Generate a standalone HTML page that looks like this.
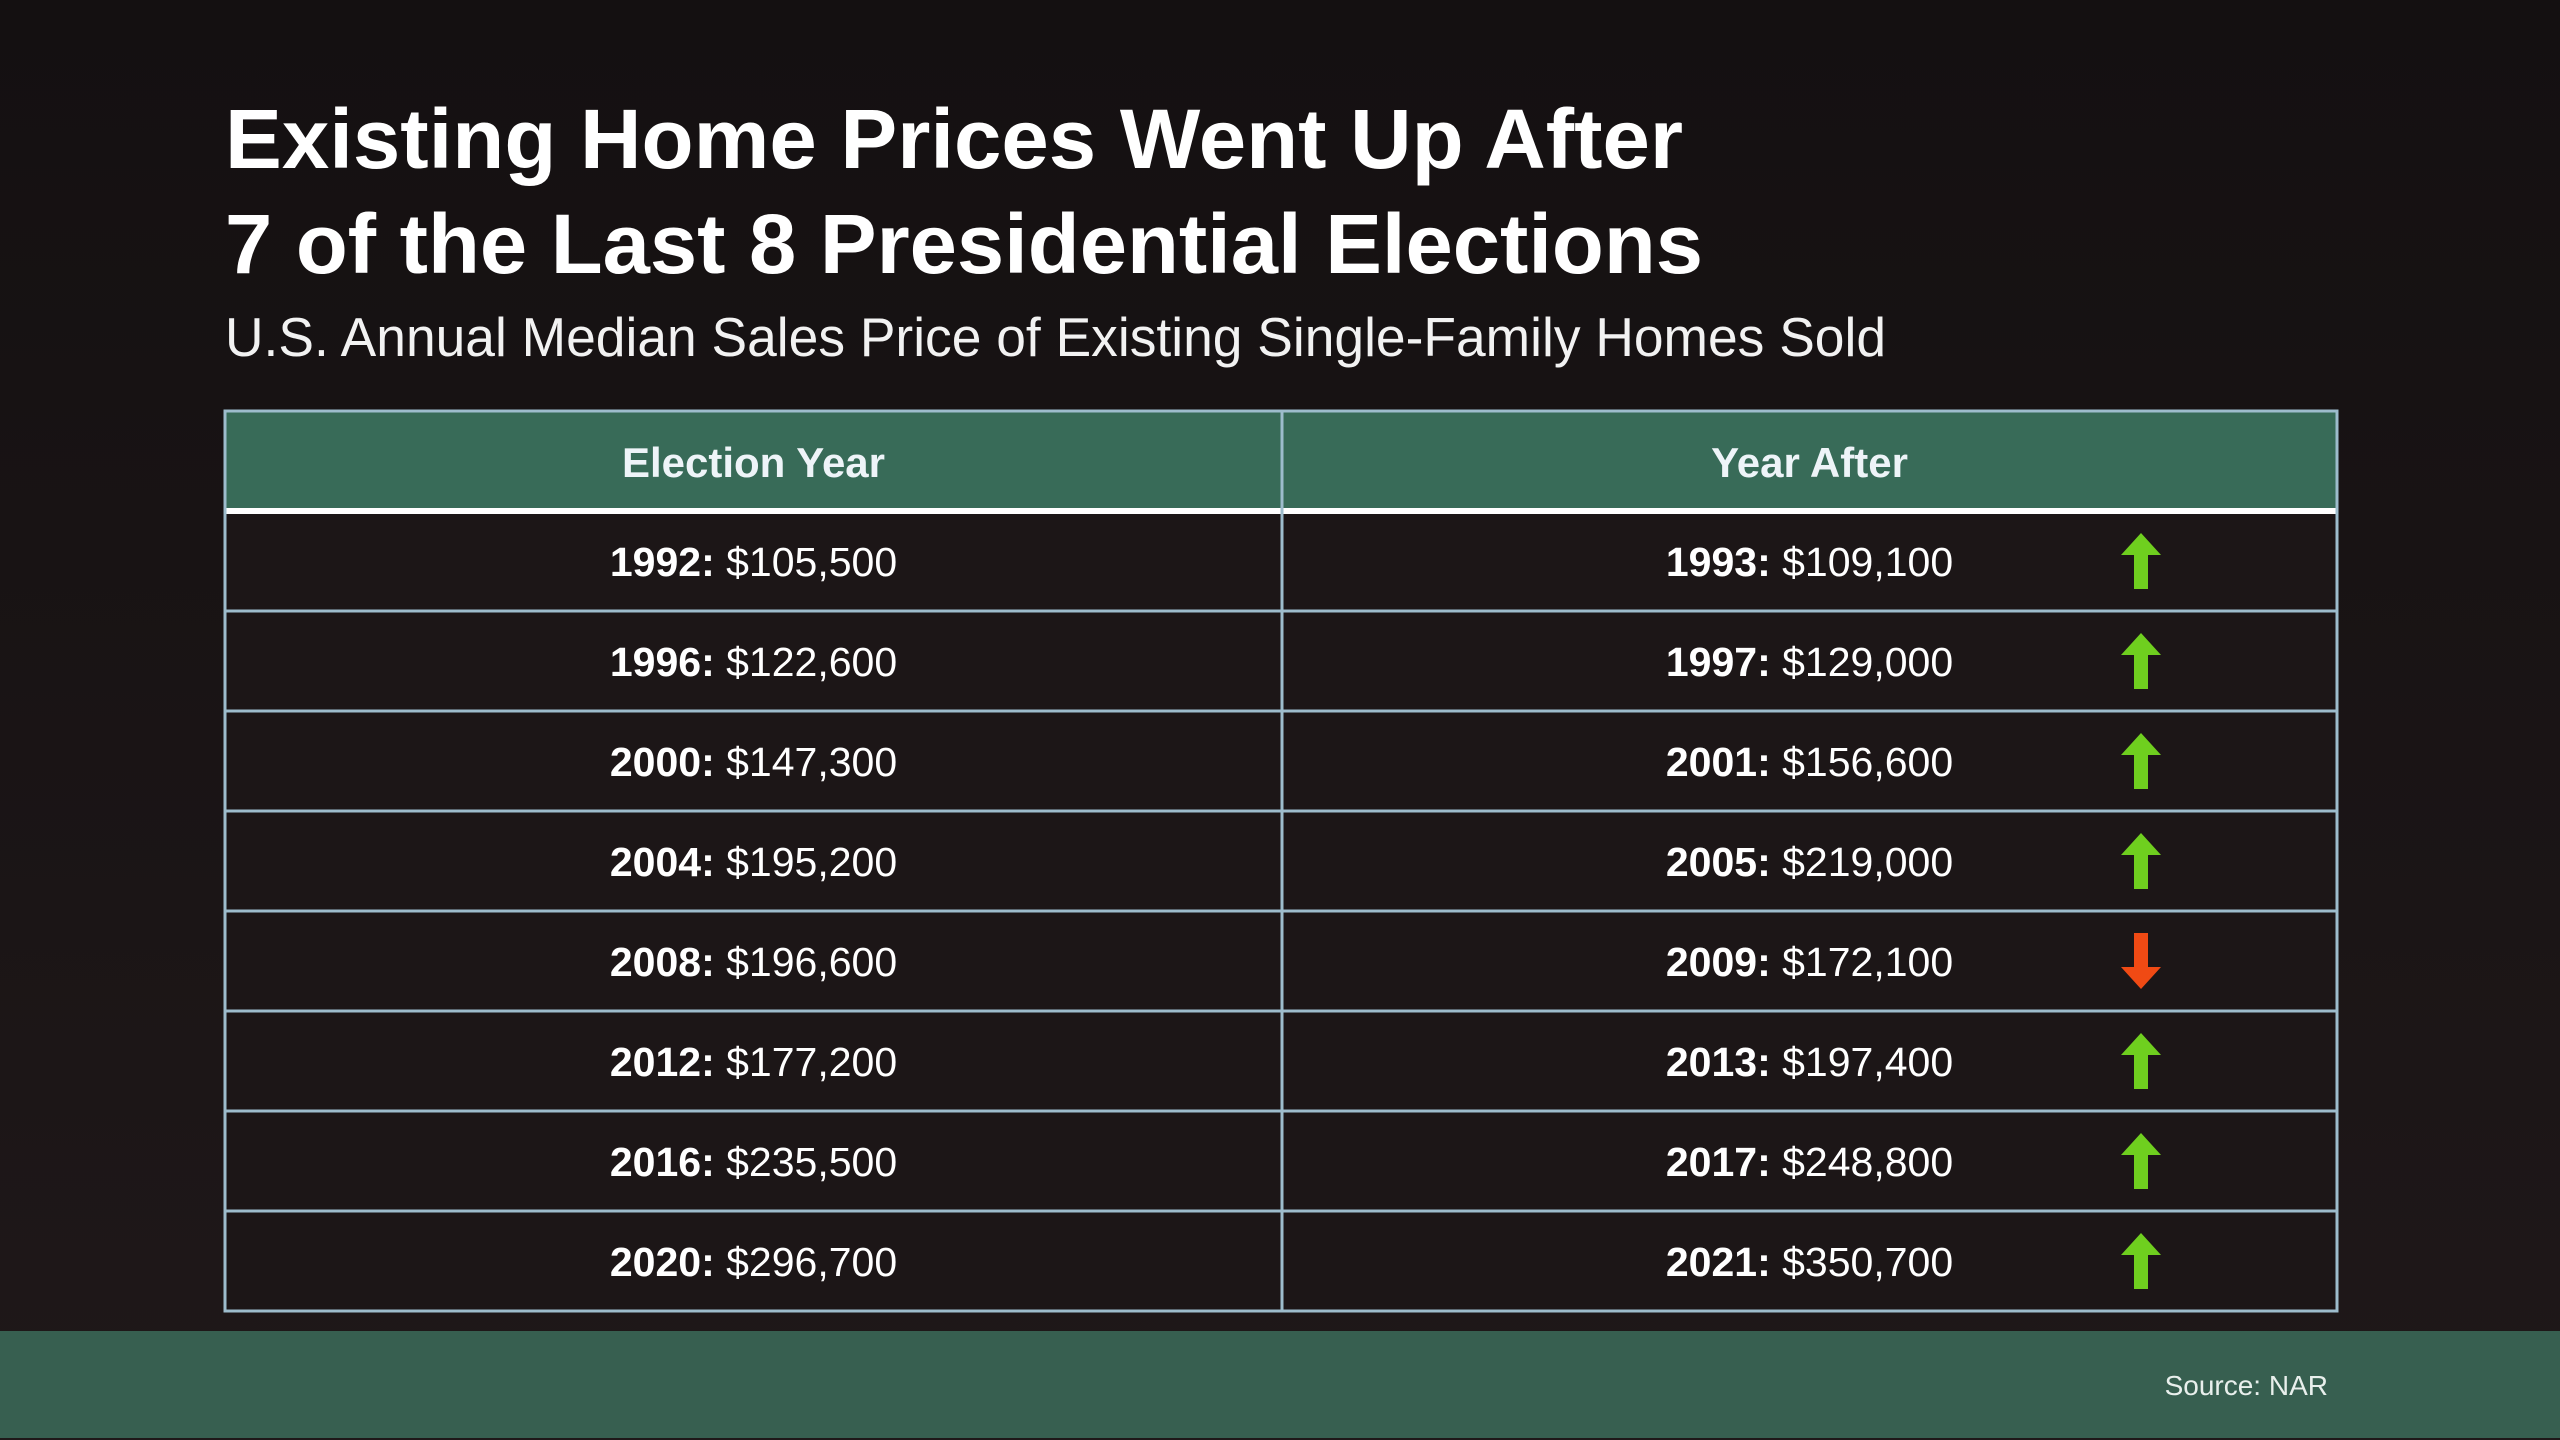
<!DOCTYPE html>
<html><head><meta charset="utf-8"><style>
html,body{margin:0;padding:0;background:#1a1415;}
svg{display:block}
</style></head><body>
<svg id="chart" width="2560" height="1440" viewBox="0 0 2560 1440" xmlns="http://www.w3.org/2000/svg" font-family="Liberation Sans, Arial, sans-serif">
<defs>
<linearGradient id="bg" x1="0" y1="0" x2="0" y2="1">
<stop offset="0" stop-color="#141011"/><stop offset="1" stop-color="#1f1819"/>
</linearGradient>
</defs>
<rect x="0" y="0" width="2560" height="1440" fill="url(#bg)"/>
<text x="225" y="168" font-size="84" font-weight="bold" fill="#ffffff" textLength="1458" lengthAdjust="spacingAndGlyphs">Existing Home Prices Went Up After</text>
<text x="225" y="273" font-size="84" font-weight="bold" fill="#ffffff" textLength="1478" lengthAdjust="spacingAndGlyphs">7 of the Last 8 Presidential Elections</text>
<text x="225" y="356" font-size="55" fill="#f2f2f2" textLength="1661" lengthAdjust="spacingAndGlyphs">U.S. Annual Median Sales Price of Existing Single-Family Homes Sold</text>
<g id="table"></g>
<rect x="0" y="1331" width="2560" height="107" fill="#375f50"/>
<text x="2328" y="1395" font-size="28" fill="#e8efec" text-anchor="end">Source: NAR</text>
</svg>
<script>
const electionYears = [1992,1996,2000,2004,2008,2012,2016,2020];
const electionPrices = [105500,122600,147300,195200,196600,177200,235500,296700];
const afterYears = [1993,1997,2001,2005,2009,2013,2017,2021];
const afterPrices = [109100,129000,156600,219000,172100,197400,248800,350700];
const headers = ["Election Year","Year After"];

const NS="http://www.w3.org/2000/svg";
const g=document.getElementById('table');
const L=225,R=2337,M=1282,T=411,HB=511,RH=100;
function mk(tag,attrs){const e=document.createElementNS(NS,tag);for(const k in attrs)e.setAttribute(k,attrs[k]);g.appendChild(e);return e;}
function fmt(v){return '$'+v.toLocaleString('en-US');}
const n=electionYears.length;
const B=HB+RH*n;
let hdr=mk('rect',{x:L,y:T,width:R-L,height:HB-T,fill:'#386b58'});


let body=mk('rect',{x:L,y:HB,width:R-L,height:B-HB,fill:'#1c1617'});


const cx=[(L+M)/2,(M+R)/2+48];
headers.forEach((h,i)=>{
  const t=mk('text',{x:i==0?(L+M)/2:(M+R)/2,y:477,'font-size':42,'font-weight':'bold',fill:'#eef4f8','text-anchor':'middle'});
  t.textContent=h;
  
  
});
for(let i=0;i<n;i++){
  const y=HB+RH*i;
  const base=y+RH/2+15;
  [[electionYears[i],electionPrices[i],(L+M)/2],[afterYears[i],afterPrices[i],(M+R)/2]].forEach(([yr,p,x],c)=>{
    const t=mk('text',{x:x,y:base,'font-size':41,fill:'#ffffff','text-anchor':'middle'});
    const b=document.createElementNS(NS,'tspan');b.setAttribute('font-weight','bold');b.textContent=yr+': ';
    const s=document.createElementNS(NS,'tspan');s.textContent=fmt(p);
    t.appendChild(b);t.appendChild(s);
    
    
  });
  const up=afterPrices[i]>=electionPrices[i];
  const ax=2141,ay=y+RH/2,h=56,w=40,sw=14;
  let pts;
  if(up) pts=[[ax,ay-h/2],[ax+w/2,ay-h/2+22],[ax+sw/2,ay-h/2+22],[ax+sw/2,ay+h/2],[ax-sw/2,ay+h/2],[ax-sw/2,ay-h/2+22],[ax-w/2,ay-h/2+22]];
  else pts=[[ax,ay+h/2],[ax+w/2,ay+h/2-22],[ax+sw/2,ay+h/2-22],[ax+sw/2,ay-h/2],[ax-sw/2,ay-h/2],[ax-sw/2,ay+h/2-22],[ax-w/2,ay+h/2-22]];
  const a=mk('polygon',{points:pts.map(p=>p.join(',')).join(' '),fill:up?'#6fcf1f':'#f04a14'});
  
  
  if(i>0){
    const ln=mk('line',{x1:L,x2:R,y1:y,y2:y,stroke:'#9dbccc','stroke-width':3});
    
    
  }
}
const wl=mk('line',{x1:L,x2:R,y1:HB,y2:HB,stroke:'#ffffff','stroke-width':6});


const vl=mk('line',{x1:M,x2:M,y1:T,y2:B,stroke:'#9dbccc','stroke-width':3});


const ob=mk('rect',{x:L,y:T,width:R-L,height:B-T,fill:'none',stroke:'#9dbccc','stroke-width':3});


</script>
</body></html>
